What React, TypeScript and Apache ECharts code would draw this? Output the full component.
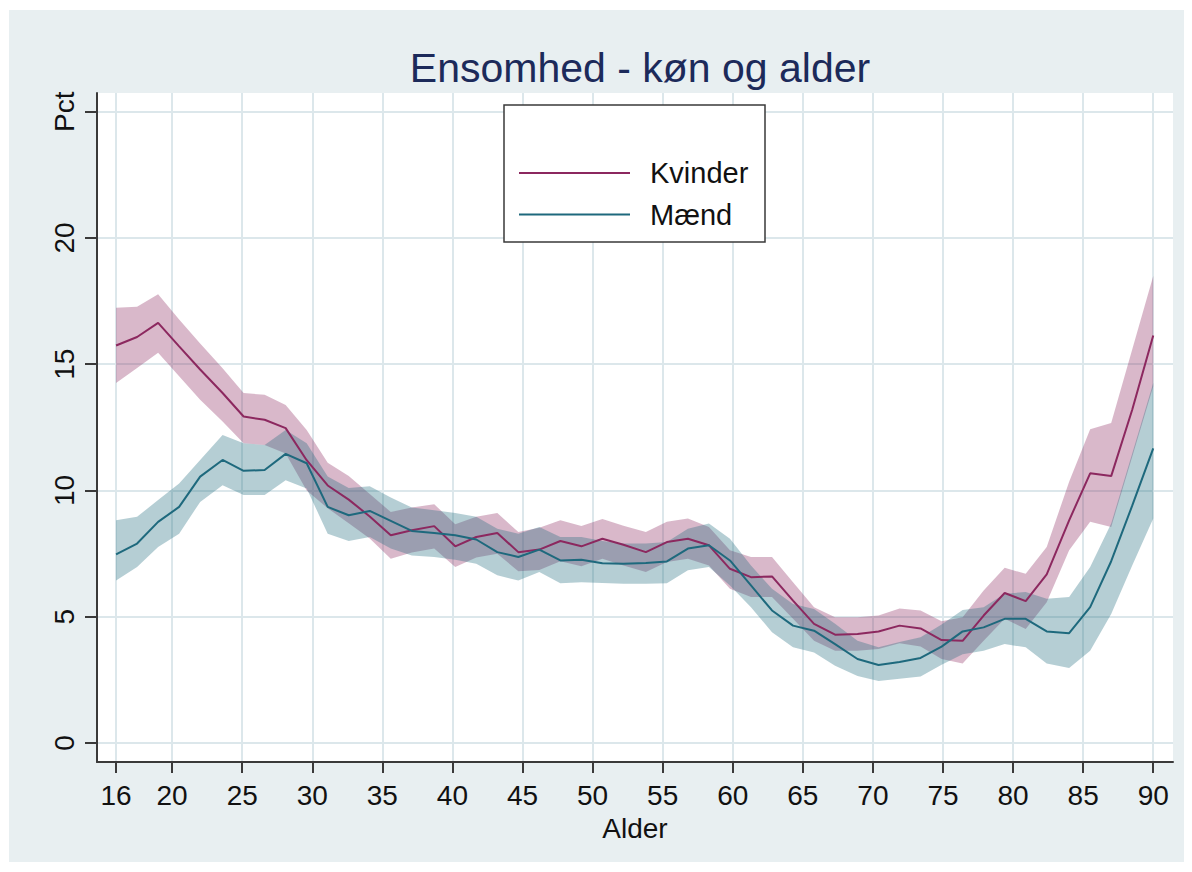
import React, { useEffect, useRef } from "react";
import * as echarts from "echarts";

const ages = [
  16.0, 17.5, 19.0, 20.5, 22.0, 23.6, 25.1, 26.6, 28.1, 29.6,
  31.1, 32.6, 34.1, 35.6, 37.1, 38.7, 40.2, 41.7, 43.2, 44.7,
  46.2, 47.7, 49.2, 50.7, 52.2, 53.8, 55.3, 56.8, 58.3, 59.8,
  61.3, 62.8, 64.3, 65.8, 67.3, 68.9, 70.4, 71.9, 73.4, 74.9,
  76.4, 77.9, 79.4, 80.9, 82.4, 84.0, 85.5, 87.0, 88.5, 90.0,
];

const kvinderMean = [
  15.74, 16.08, 16.64, 15.71, 14.79, 13.86, 12.93, 12.8, 12.47, 11.2,
  10.2, 9.64, 8.97, 8.23, 8.43, 8.59, 7.79, 8.16, 8.32, 7.56,
  7.66, 8.0, 7.79, 8.09, 7.85, 7.56, 7.96, 8.09, 7.83, 6.9,
  6.57, 6.6, 5.64, 4.72, 4.29, 4.32, 4.42, 4.65, 4.54, 4.08,
  4.05, 5.05, 5.94, 5.62, 6.68, 8.82, 10.68, 10.57, 13.2, 16.14,
];
const kvinderUpper = [
  17.24, 17.28, 17.77, 16.77, 15.82, 14.84, 13.86, 13.79, 13.39, 12.4,
  11.1, 10.57, 9.86, 9.15, 9.33, 9.46, 8.66, 8.96, 9.11, 8.36,
  8.53, 8.82, 8.59, 8.87, 8.6, 8.36, 8.76, 8.89, 8.56, 7.63,
  7.37, 7.37, 6.37, 5.38, 4.98, 4.98, 5.05, 5.33, 5.25, 4.82,
  4.98, 6.04, 6.94, 6.7, 7.76, 10.35, 12.43, 12.67, 15.58, 18.49,
];
const kvinderLower = [
  14.26, 14.85, 15.45, 14.52, 13.59, 12.73, 11.87, 11.8, 11.47, 10.0,
  9.3, 8.7, 8.1, 7.3, 7.55, 7.7, 6.97, 7.35, 7.5, 6.8,
  6.85, 7.2, 7.0, 7.3, 7.03, 6.77, 7.17, 7.3, 7.03, 6.11,
  5.78, 5.78, 4.92, 4.05, 3.66, 3.66, 3.72, 3.95, 3.82, 3.33,
  3.15, 4.05, 4.92, 4.52, 5.58, 7.63, 8.76, 8.56, 11.34, 14.12,
];

const maendMean = [
  7.47, 7.9, 8.76, 9.35, 10.55, 11.21, 10.78, 10.81, 11.45, 11.08,
  9.35, 9.02, 9.19, 8.8, 8.4, 8.32, 8.23, 8.06, 7.56, 7.37,
  7.66, 7.23, 7.26, 7.12, 7.1, 7.13, 7.19, 7.7, 7.83, 7.23,
  6.24, 5.25, 4.65, 4.45, 3.92, 3.33, 3.09, 3.21, 3.37, 3.82,
  4.42, 4.58, 4.92, 4.92, 4.42, 4.35, 5.38, 7.2, 9.4, 11.67,
];
const maendUpper = [
  8.82, 8.96, 9.62, 10.28, 11.21, 12.2, 11.87, 11.8, 12.4, 11.87,
  10.55, 10.1, 10.17, 9.72, 9.33, 9.22, 9.11, 8.96, 8.49, 8.29,
  8.56, 8.16, 8.16, 8.0, 7.9, 7.9, 7.96, 8.49, 8.69, 8.09,
  7.03, 6.11, 5.51, 5.31, 4.72, 4.05, 3.79, 4.0, 4.19, 4.69,
  5.27, 5.38, 5.91, 5.98, 5.71, 5.78, 6.97, 8.69, 11.47, 14.26,
];
const maendLower = [
  6.44, 6.97, 7.76, 8.29, 9.55, 10.21, 9.82, 9.82, 10.41, 10.08,
  8.29, 8.0, 8.16, 7.7, 7.43, 7.37, 7.26, 7.1, 6.64, 6.44,
  6.77, 6.33, 6.37, 6.34, 6.31, 6.31, 6.33, 6.84, 6.97, 6.24,
  5.38, 4.39, 3.79, 3.59, 3.06, 2.66, 2.46, 2.55, 2.64, 3.1,
  3.52, 3.66, 3.92, 3.79, 3.15, 2.97, 3.66, 5.11, 7.03, 8.89,
];

const xTicks = [16, 20, 25, 30, 35, 40, 45, 50, 55, 60, 65, 70, 75, 80, 85, 90];
const yTicks = [0, 5, 10, 15, 20, 25];

const FONT = "'Liberation Sans', Arial, Helvetica, sans-serif";
const KV_COLOR = "rgb(140,40,95)";
const KV_BAND = "rgba(140,40,95,0.33)";
const MA_COLOR = "rgb(30,105,125)";
const MA_BAND = "rgba(30,105,125,0.33)";

function bandSeries(name: string, lower: number[], upper: number[], fill: string) {
  return {
    type: "custom",
    name,
    silent: true,
    z: 1,
    encode: { x: 0, y: [1, 2] },
    data: ages.map((a, i) => [a, lower[i], upper[i]]),
    renderItem: (params: any, api: any) => {
      if (params.dataIndex !== 0) return null;
      const pts: number[][] = [];
      for (let i = 0; i < ages.length; i++) pts.push(api.coord([ages[i], upper[i]]));
      for (let i = ages.length - 1; i >= 0; i--) pts.push(api.coord([ages[i], lower[i]]));
      return { type: "polygon", shape: { points: pts }, style: { fill, stroke: "none" } };
    },
  };
}

export default function App() {
  const ref = useRef<HTMLDivElement>(null);
  useEffect(() => {
    if (!ref.current) return;
    const chart = echarts.init(ref.current, undefined, { renderer: "svg" });
    const option: any = {
      animation: false,
      backgroundColor: "#e8eff1",
      textStyle: { fontFamily: FONT },
      title: {
        text: "Ensomhed - køn og alder",
        left: 626,
        top: 53,
        textAlign: "center",
        textVerticalAlign: "middle",
        textStyle: { fontSize: 41, fontWeight: "normal", color: "#1c2a5a", fontFamily: FONT },
      },
      grid: {
        left: 88,
        top: 83,
        right: 11,
        bottom: 100,
        show: true,
        backgroundColor: "#ffffff",
        borderWidth: 0,
      },
      legend: {
        orient: "vertical",
        left: 509,
        top: 148,
        padding: 0,
        itemWidth: 111,
        itemHeight: 30,
        itemGap: 11.6,
        data: ["Kvinder", "Mænd"],
        itemStyle: { color: "rgba(0,0,0,0)", borderColor: "rgba(0,0,0,0)", borderWidth: 0, opacity: 0 },
        textStyle: {
          fontSize: 29,
          lineHeight: 30,
          color: "#111",
          fontFamily: FONT,
          padding: [0, 0, 0, 15],
        },
        z: 10,
      },
      graphic: [
        {
          type: "rect",
          z: 5,
          shape: { x: 495, y: 95, width: 261, height: 137 },
          style: { fill: "#ffffff", stroke: "#3a3a3a", lineWidth: 1.5 },
          silent: true,
        },
      ],
      xAxis: {
        type: "value",
        min: 14.64,
        max: 91.41,
        name: "Alder",
        nameLocation: "middle",
        nameGap: 52,
        nameTextStyle: { fontSize: 28, color: "#111", fontFamily: FONT },
        axisLine: { show: true, onZero: false, lineStyle: { color: "#3a3a3a", width: 2 } },
        axisTick: { show: true, length: 11, customValues: xTicks, lineStyle: { color: "#3a3a3a", width: 2 } },
        axisLabel: { customValues: xTicks, fontSize: 28, color: "#111", margin: 19, fontFamily: FONT },
        splitLine: { show: true, lineStyle: { color: "#dce7eb", width: 2 } },
      },
      yAxis: {
        type: "value",
        min: -0.75,
        max: 25.74,
        axisLine: { show: true, onZero: false, lineStyle: { color: "#3a3a3a", width: 2 } },
        axisTick: { show: true, length: 12, customValues: yTicks, lineStyle: { color: "#3a3a3a", width: 2 } },
        axisLabel: {
          customValues: yTicks,
          rotate: 90,
          fontSize: 28,
          color: "#111",
          margin: 19,
          fontFamily: FONT,
          formatter: (v: number) => (v === 25 ? "Pct" : String(v)),
        },
        splitLine: { show: true, lineStyle: { color: "#dce7eb", width: 2 } },
      },
      series: [
        bandSeries("Kvinder CI", kvinderLower, kvinderUpper, KV_BAND),
        bandSeries("Mænd CI", maendLower, maendUpper, MA_BAND),
        {
          type: "line",
          name: "Kvinder",
          z: 3,
          symbol: "none",
          data: ages.map((a, i) => [a, kvinderMean[i]]),
          lineStyle: { color: KV_COLOR, width: 2 },
          itemStyle: { color: KV_COLOR },
        },
        {
          type: "line",
          name: "Mænd",
          z: 3,
          symbol: "none",
          data: ages.map((a, i) => [a, maendMean[i]]),
          lineStyle: { color: MA_COLOR, width: 2 },
          itemStyle: { color: MA_COLOR },
        },
      ],
    };
    chart.setOption(option);
    return () => chart.dispose();
  }, []);
  return (
    <div style={{ position: "absolute", left: 0, top: 0, width: 1192, height: 872, background: "#ffffff" }}>
      <div ref={ref} style={{ position: "absolute", left: 9, top: 10, width: 1175, height: 852 }} />
    </div>
  );
}
